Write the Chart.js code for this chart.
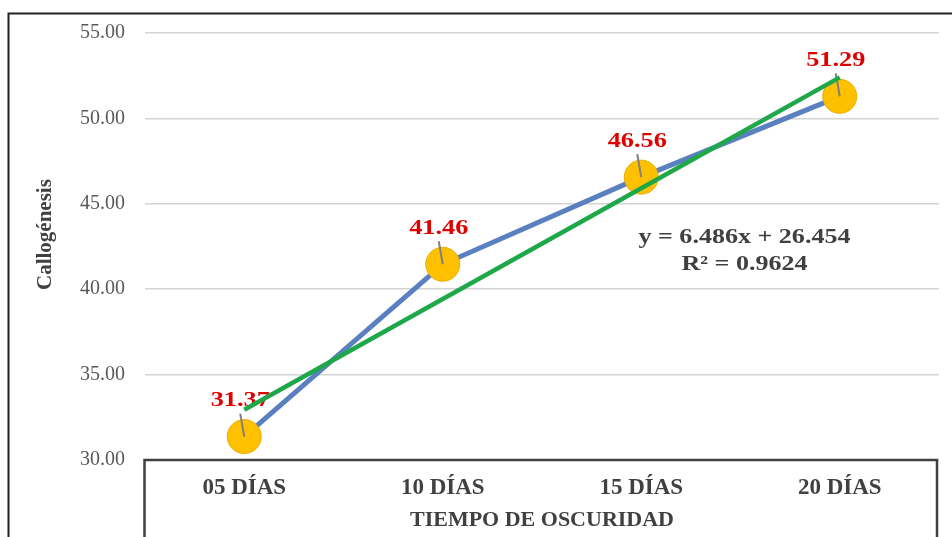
<!DOCTYPE html>
<html>
<head>
<meta charset="utf-8">
<script src="https://cdn.jsdelivr.net/npm/chart.js@4.4.1/dist/chart.umd.min.js"></script>
<style>
  html, body { margin: 0; padding: 0; background: #fff; }
  canvas { display: block; }
</style>
</head>
<body>
<canvas id="grafico" width="952" height="537"></canvas>
<script>
// datos
const categorias = ['05 DÍAS', '10 DÍAS', '15 DÍAS', '20 DÍAS'];
const callogenesis = [31.37, 41.46, 46.56, 51.29];
// línea de tendencia (y = 6.486x + 26.454)
const tendencia = [32.94, 39.43, 45.91, 52.40];
const ecuacion = ['y = 6.486x + 26.454', 'R² = 0.9624'];
const tituloY = 'Callogénesis';

const serif = "'Liberation Serif', 'Times New Roman', serif";

// texto un poco ensanchado, como en el original
function textoAncho(ctx, txt, x, y, escala) {
    ctx.save();
    ctx.translate(x, y);
    ctx.scale(escala, 1);
    ctx.fillText(txt, 0, 0);
    ctx.restore();
}

// marco exterior + caja del eje X + título Y + ecuación
const marcoPlugin = {
    id: 'marco',
    beforeDraw(chart) {
        const ctx = chart.ctx;
        ctx.save();
        ctx.strokeStyle = '#222';
        ctx.lineWidth = 2;
        ctx.beginPath();
        ctx.moveTo(8.5, chart.height);
        ctx.lineTo(8.5, 13.5);
        ctx.lineTo(chart.width, 13.5);
        ctx.stroke();
        ctx.restore();
    },
    afterDraw(chart) {
        const ctx = chart.ctx;
        const a = chart.chartArea;
        ctx.save();
        ctx.strokeStyle = '#404040';
        ctx.lineWidth = 2.5;
        ctx.strokeRect(a.left - 0.5, a.bottom, a.right - a.left - 1.5, chart.height);

        // título del eje Y (un poco por encima del centro, como en el original)
        ctx.save();
        ctx.translate(46, chart.scales.y.getPixelForValue(43.2));
        ctx.rotate(-Math.PI / 2);
        ctx.fillStyle = '#404040';
        ctx.font = 'bold 21px ' + serif;
        ctx.textAlign = 'center';
        ctx.textBaseline = 'middle';
        ctx.fillText(tituloY, 0, 0);
        ctx.restore();

        // ecuación de la tendencia
        const x = chart.scales.x.getPixelForValue(2.52);
        const y = chart.scales.y.getPixelForValue(43.0);
        ctx.fillStyle = '#404040';
        ctx.font = 'bold 21px ' + serif;
        ctx.textAlign = 'center';
        ctx.textBaseline = 'middle';
        textoAncho(ctx, ecuacion[0], x, y, 1.24);
        textoAncho(ctx, ecuacion[1], x, y + 27, 1.24);
        ctx.restore();
    }
};

// etiquetas rojas con línea guía
const etiquetasPlugin = {
    id: 'etiquetas',
    afterDatasetDraw(chart, args) {
        if (args.index !== 1) return;
        const ctx = chart.ctx;
        ctx.save();
        args.meta.data.forEach((pt, i) => {
            ctx.strokeStyle = '#7f7f7f';
            ctx.lineWidth = 2;
            ctx.beginPath();
            ctx.moveTo(pt.x - 4, pt.y - 23);
            ctx.lineTo(pt.x, pt.y);
            ctx.stroke();
            ctx.fillStyle = '#E00000';
            ctx.font = 'bold 21px ' + serif;
            ctx.textAlign = 'center';
            ctx.textBaseline = 'middle';
            textoAncho(ctx, callogenesis[i].toFixed(2), pt.x - 4, pt.y - 36, 1.25);
        });
        ctx.restore();
    }
};

new Chart(document.getElementById('grafico'), {
    type: 'line',
    data: {
        labels: categorias,
        datasets: [
            {
                label: 'Lineal',
                data: tendencia,
                borderColor: '#1EA84A',
                borderWidth: 4.5,
                pointRadius: 0,
                tension: 0,
                order: 0
            },
            {
                label: 'Callogénesis',
                data: callogenesis,
                borderColor: '#5B80C0',
                borderWidth: 5,
                pointRadius: 17,
                pointBackgroundColor: '#FFC000',
                pointBorderColor: '#E8AE00',
                pointBorderWidth: 1,
                tension: 0,
                order: 1
            }
        ]
    },
    options: {
        responsive: false,
        animation: false,
        devicePixelRatio: 1,
        layout: { autoPadding: false, padding: { top: 33, right: 13, left: 0, bottom: 0 } },
        plugins: {
            legend: { display: false },
            tooltip: { enabled: false }
        },
        scales: {
            x: {
                offset: true,
                grid: { display: false, drawTicks: false },
                border: { display: false },
                ticks: {
                    color: '#404040',
                    font: { family: serif, size: 23, weight: 'bold' },
                    padding: 14
                },
                title: {
                    display: true,
                    text: 'TIEMPO DE OSCURIDAD',
                    color: '#404040',
                    font: { family: serif, size: 22, weight: 'bold' },
                    padding: { top: 0, bottom: 3 }
                },
                afterFit(s) { s.height = 77; }
            },
            y: {
                min: 30,
                max: 55,
                grid: { color: '#D4D4D4', lineWidth: 1.5, drawTicks: false },
                border: { display: false },
                ticks: {
                    stepSize: 5,
                    color: '#595959',
                    font: { family: serif, size: 20 },
                    padding: 20,
                    callback: v => v.toFixed(2)
                },
                afterFit(s) { s.width = 145; }
            }
        }
    },
    plugins: [marcoPlugin, etiquetasPlugin]
});
</script>
</body>
</html>
